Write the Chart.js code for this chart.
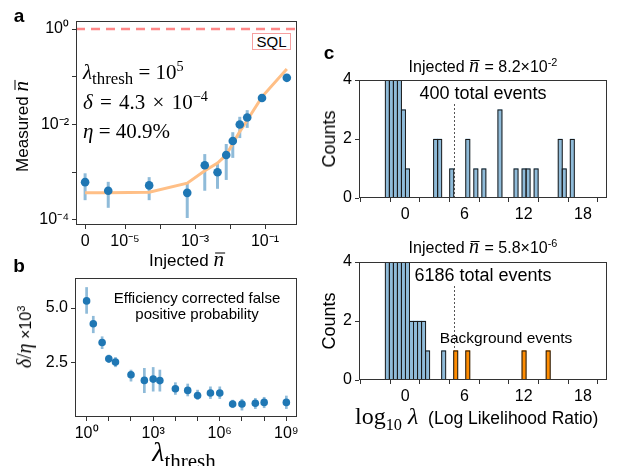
<!DOCTYPE html>
<html lang="en">
<head>
<meta charset="UTF-8">
<title>Measured vs injected photon number</title>
<script src="https://cdn.jsdelivr.net/npm/chart.js@4.4.1/dist/chart.umd.min.js"></script>
<style>
  body { margin: 0; background: #fff; }
  #fig { position: relative; width: 620px; height: 466px; overflow: hidden;
         font-family: "Liberation Sans", Arial, sans-serif; color: #000; }
  canvas { position: absolute; }
  .t { position: absolute; white-space: nowrap; line-height: 1; }
  .c { transform: translate(-50%, -50%); }
  .r { transform: translate(-50%, -50%) rotate(-90deg); }
  .m { font-family: "Liberation Serif", "DejaVu Serif", serif; }
  .nb { font-family: "Liberation Serif", serif; font-style: italic; position: relative; padding-right: 1px; }
  .nb::before { content: ''; position: absolute; left: 12%; right: 0; top: 0.3em; border-top: 1px solid #000; }
  .lbl { font-weight: bold; font-size: 19px; }
  sup, sub { font-size: 68%; line-height: 0; }
  .sql { position: absolute; left: 252px; top: 33px; width: 37px; height: 15px;
         border: 1px solid #f6a0a0; font-size: 15px; text-align: center; line-height: 16px; background: #fff; }
  .wb { background: #fff; padding: 0 2px; }
</style>
</head>
<body>
<div id="fig">
  <canvas id="cA"></canvas>
  <canvas id="cB"></canvas>
  <canvas id="cC1"></canvas>
  <canvas id="cC2"></canvas>

  <!-- panel a -->
  <div class="t lbl c" style="left:19px;top:15px">a</div>
  <div class="sql">SQL</div>
  <div class="t r" style="left:21px;top:126px;font-size:17px">Measured <span class="nb" style="font-size:21px">n</span></div>
  <div class="t c" style="left:187px;top:259px;font-size:17px">Injected <span class="nb" style="font-size:21px">n</span></div>
  <div class="t m" style="left:83px;top:62px;font-size:21px"><i>λ</i><sub style="font-size:80%">thresh</sub> = 10<sup>5</sup></div>
  <div class="t m" style="left:83px;top:92px;font-size:21px;word-spacing:2px"><i>δ</i> = 4.3 × 10<sup>−4</sup></div>
  <div class="t m" style="left:83px;top:121px;font-size:21px"><i>η</i> = 40.9%</div>

  <!-- panel b -->
  <div class="t lbl c" style="left:19px;top:265px">b</div>
  <div class="t c" style="left:197px;top:297px;font-size:15px">Efficiency corrected false</div>
  <div class="t c" style="left:197px;top:313px;font-size:15px">positive probability</div>
  <div class="t r" style="left:24px;top:337px;font-size:16px"><span class="m" style="font-size:20px"><i>δ</i>/<i>η</i></span> ×10<sup>3</sup></div>
  <div class="t c m" style="left:184px;top:452px;font-size:28px"><i>λ</i><sub style="font-size:21px">thresh</sub></div>

  <!-- panel c -->
  <div class="t lbl c" style="left:329px;top:52px">c</div>
  <div class="t c" style="left:483px;top:65px;font-size:16px">Injected <span class="nb" style="font-size:20px">n</span> = 8.2×10<sup>-2</sup></div>
  <div class="t c wb" style="left:483px;top:93px;font-size:18px">400 total events</div>
  <div class="t r" style="left:329px;top:139px;font-size:18px">Counts</div>
  <div class="t c" style="left:483px;top:246px;font-size:16px">Injected <span class="nb" style="font-size:20px">n</span> = 5.8×10<sup>-6</sup></div>
  <div class="t c wb" style="left:483px;top:275px;font-size:18px">6186 total events</div>
  <div class="t c" style="left:506px;top:338px;font-size:15.5px">Background events</div>
  <div class="t r" style="left:329px;top:321px;font-size:18px">Counts</div>
  <div class="t" style="left:355px;top:404px;font-size:17.5px"><span class="m" style="font-size:24px">log<sub>10</sub> <i>λ</i></span>&nbsp; (Log Likelihood Ratio)</div>
</div>

<script>
  // ---- panel a: measured vs injected mean photon number ----
  const injected   = [0, 5.8e-6, 4.9e-5, 6e-4, 1.9e-3, 4.4e-3, 7.8e-3, 1.2e-2, 1.9e-2, 3.1e-2, 8.2e-2, 0.42];
  const measured   = [6.2e-4, 4.1e-4, 5.3e-4, 3.7e-4, 1.4e-3, 1.0e-3, 2.3e-3, 4.5e-3, 1.0e-2, 1.4e-2, 3.6e-2, 9.5e-2];
  const measuredLo = [2.6e-4, 1.8e-4, 2.6e-4, 1.1e-4, 4.1e-4, 4.5e-4, 6.9e-4, 2.0e-3, 5.2e-3, 8.5e-3, 3.2e-2, 8.7e-2];
  const measuredHi = [9.5e-4, 6.3e-4, 7.9e-4, 6.0e-4, 2.4e-3, 1.55e-3, 3.9e-3, 6.9e-3, 1.45e-2, 2.0e-2, 4.0e-2, 1.03e-1];
  const fitLine    = [3.7e-4, 3.7e-4, 3.8e-4, 5.9e-4, 1.07e-3, 1.56e-3, 2.3e-3, 4.0e-3, 7.1e-3, 1.23e-2, 3.8e-2, 0.145];
  const sqlLevel   = 1;
  const aXTicks  = [0, 1e-5, 1e-4, 1e-3, 1e-2, 1e-1];
  const aXLabels = ['0', '10⁻⁵', '', '10⁻³', '', '10⁻¹'];
  const aYTicks  = [1e-4, 1e-3, 1e-2, 1e-1, 1];
  const aYLabels = ['10⁻⁴', '', '10⁻²', '', '10⁰'];

  // ---- panel b: efficiency corrected false positive probability ----
  const lamThreshVals = [1, 2, 5, 10, 20, 100, 400, 1e3, 2e3, 1e4, 3.6e4, 1e5, 3.8e5, 1e6, 3.8e6, 1e7, 4e7, 1e8, 1e9];
  const fpRatio   = [5.33, 4.28, 3.42, 2.67, 2.52, 1.94, 1.68, 1.74, 1.67, 1.30, 1.22, 0.99, 1.10, 1.10, 0.60, 0.60, 0.63, 0.67, 0.67];
  const fpRatioLo = [4.74, 3.85, 3.12, 2.48, 2.29, 1.63, 1.10, 1.17, 1.17, 1.02, 0.95, 0.79, 0.83, 0.83, 0.41, 0.30, 0.37, 0.41, 0.37];
  const fpRatioHi = [5.96, 4.64, 3.70, 2.86, 2.75, 2.17, 2.25, 2.29, 2.17, 1.59, 1.53, 1.25, 1.40, 1.40, 0.79, 0.83, 0.87, 0.92, 0.98];
  const bXTicks  = [1, 10, 100, 1e3, 1e4, 1e5, 1e6, 1e7, 1e8, 1e9];
  const bXLabels = ['10⁰', '', '', '10³', '', '', '10⁶', '', '', '10⁹'];
  const bYTicks  = [2.5, 5];
  const bYLabels = ['2.5', '5.0'];

  // ---- panel c: log likelihood ratio histograms ----
  const BIN_START = -2.0, BIN_WIDTH = 0.407;
  // first bins are clipped at the top of the axis (4)
  const topBins   = [0, 1, 2, 3, 4, 5, 12, 13, 16, 20, 22, 24, 28, 32, 34, 35, 37, 43, 44, 46];
  const topCounts = [4, 4, 4, 4, 3, 1, 2, 2, 1, 2, 1, 1, 3, 1, 1, 1, 1, 2, 1, 2];
  const botBins   = [0, 1, 2, 3, 4, 5, 6, 7, 8, 9, 10, 14];
  const botCounts = [4, 4, 4, 4, 4, 4, 2, 2, 2, 2, 1, 1];
  const bgBins    = [17, 20, 34, 40];
  const bgCounts  = [1, 1, 1, 1];
  const logLamThresh = 4.9;
  const cXTicks  = [-3, 0, 3, 6, 9, 12, 15, 18];
  const cXLabels = ['', '0', '', '6', '', '12', '', '18'];
  const cYTicks  = [0, 2, 4];
  const cYLabels = ['0', '2', '4'];

  // symlog x axis of panel a (linear below 1e-5)
  const LINTHRESH = 1e-5, LINSPAN = 1.14;
  function symlog(v) {
    return v < LINTHRESH ? Math.log10(LINTHRESH) - LINSPAN + LINSPAN * v / LINTHRESH : Math.log10(v);
  }
  const binCenter = b => BIN_START + BIN_WIDTH * (b + 0.5);

  const BLUE = '#1f77b4', BLUE_LIGHT = '#8fbbd9';

  // draws the closed box round the plot area
  const frame = {
    id: 'frame',
    afterDraw(chart) {
      const { ctx, chartArea: a } = chart;
      ctx.save();
      ctx.strokeStyle = '#333';
      ctx.lineWidth = 1;
      ctx.strokeRect(a.left + 0.5, a.top + 0.5, a.right - a.left - 1, a.bottom - a.top - 1);
      ctx.restore();
    }
  };

  // vertical error bars
  const errorBars = {
    id: 'errorBars',
    beforeDatasetsDraw(chart, args, o) {
      const { ctx, scales: { x, y } } = chart;
      ctx.save();
      ctx.strokeStyle = o.color;
      ctx.lineWidth = o.width;
      o.xs.forEach((xv, i) => {
        const px = x.getPixelForValue(xv);
        ctx.beginPath();
        ctx.moveTo(px, y.getPixelForValue(o.lo[i]));
        ctx.lineTo(px, y.getPixelForValue(o.hi[i]));
        ctx.stroke();
      });
      ctx.restore();
    }
  };

  // thin outline round each histogram bar (edges shared like matplotlib)
  const barEdges = {
    id: 'barEdges',
    afterDatasetsDraw(chart) {
      const { ctx, chartArea: a } = chart;
      ctx.save();
      ctx.beginPath();
      ctx.rect(a.left, a.top, a.right - a.left, a.bottom - a.top);
      ctx.clip();
      ctx.strokeStyle = '#1a1a1a';
      ctx.lineWidth = 1;
      chart.data.datasets.forEach((ds, i) => {
        chart.getDatasetMeta(i).data.forEach(bar => {
          const l = bar.x - bar.width / 2;
          ctx.strokeRect(l, bar.y + 0.5, bar.width, bar.base - bar.y);
        });
      });
      ctx.restore();
    }
  };

  // horizontal / vertical reference lines
  const refLines = {
    id: 'refLines',
    beforeDatasetsDraw(chart, args, o) {
      const { ctx, chartArea: a, scales: { x, y } } = chart;
      ctx.save();
      ctx.beginPath();
      ctx.rect(a.left, a.top, a.right - a.left, a.bottom - a.top);
      ctx.clip();
      ctx.strokeStyle = o.color;
      ctx.lineWidth = o.width;
      ctx.setLineDash(o.dash);
      ctx.beginPath();
      if (o.y !== undefined) {
        const py = y.getPixelForValue(o.y);
        ctx.moveTo(a.left, py);
        ctx.lineTo(a.right, py);
      } else {
        const px = Math.round(x.getPixelForValue(o.x)) + 0.5;
        ctx.moveTo(px, a.bottom);
        ctx.lineTo(px, a.bottom - o.frac * (a.bottom - a.top));
      }
      ctx.stroke();
      ctx.restore();
    }
  };

  function axis(type, min, max, ticks, labels) {
    return {
      type, min, max,
      afterBuildTicks: s => { s.ticks = ticks.map(v => ({ value: v })); },
      ticks: {
        callback: (v, i) => labels[i],
        font: { family: 'Liberation Sans', size: 16 },
        color: '#000', padding: 3, maxRotation: 0, autoSkip: false
      },
      grid: { drawOnChartArea: false, tickLength: 4, color: '#333' },
      border: { display: false }
    };
  }

  // box = canvas [x, y, w, h], area = plot area [left, top, right, bottom], page pixels
  function place(id, box, area, cfg) {
    const cv = document.getElementById(id);
    cv.style.left = box[0] + 'px';
    cv.style.top = box[1] + 'px';
    cv.width = box[2];
    cv.height = box[3];
    cfg.options.responsive = false;
    cfg.options.animation = false;
    cfg.options.devicePixelRatio = 1;
    cfg.options.layout = { padding: { left: 0, bottom: 0, top: area[1] - box[1], right: box[0] + box[2] - area[2] } };
    cfg.options.scales.x.afterFit = s => { s.height = box[1] + box[3] - area[3]; };
    cfg.options.scales.y.afterFit = s => { s.width = area[0] - box[0]; };
    cfg.options.plugins.legend = { display: false };
    cfg.options.plugins.tooltip = { enabled: false };
    return new Chart(cv, cfg);
  }

  // panel a
  place('cA', [0, 0, 310, 250], [76, 21, 297, 225], {
    type: 'scatter',
    data: {
      datasets: [
        {
          data: injected.map((v, i) => ({ x: symlog(v), y: measured[i] })),
          backgroundColor: BLUE, borderWidth: 0, pointRadius: 4.3
        },
        {
          type: 'line',
          data: injected.map((v, i) => ({ x: symlog(v), y: fitLine[i] })),
          borderColor: '#ffbf86', borderWidth: 3, pointRadius: 0, tension: 0
        }
      ]
    },
    options: {
      scales: {
        x: axis('linear', -6.4, -0.086, aXTicks.map(symlog), aXLabels),
        y: axis('logarithmic', Math.pow(10, -4.105), Math.pow(10, 0.168), aYTicks, aYLabels)
      },
      plugins: {
        errorBars: { xs: injected.map(symlog), lo: measuredLo, hi: measuredHi, color: BLUE_LIGHT, width: 3 },
        refLines: { y: sqlLevel, color: '#f88', width: 2.5, dash: [9, 6] }
      }
    },
    plugins: [frame, errorBars, refLines]
  });

  // panel b
  place('cB', [0, 265, 310, 175], [75, 278, 297, 417], {
    type: 'scatter',
    data: {
      datasets: [{
        data: lamThreshVals.map((v, i) => ({ x: v, y: fpRatio[i] })),
        backgroundColor: BLUE, borderWidth: 0, pointRadius: 3.8
      }]
    },
    options: {
      scales: {
        x: axis('logarithmic', Math.pow(10, -0.48), Math.pow(10, 9.48), bXTicks, bXLabels),
        y: axis('linear', 0, 6.38, bYTicks, bYLabels)
      },
      plugins: {
        errorBars: { xs: lamThreshVals, lo: fpRatioLo, hi: fpRatioHi, color: BLUE_LIGHT, width: 2.7 }
      }
    },
    plugins: [frame, errorBars]
  });

  // panel c histograms
  function histDataset(bins, counts, color) {
    return {
      data: bins.map((b, i) => ({ x: binCenter(b), y: counts[i] })),
      backgroundColor: color, borderWidth: 0,
      barPercentage: 1, categoryPercentage: 1, grouped: false
    };
  }
  function histChart(id, box, area, datasets) {
    return place(id, box, area, {
      type: 'bar',
      data: { datasets },
      options: {
        scales: {
          x: axis('linear', -3.1, 18.87, cXTicks, cXLabels),
          y: axis('linear', 0, 4, cYTicks, cYLabels)
        },
        plugins: {
          refLines: { x: logLamThresh, frac: 0.8, color: '#555', width: 1, dash: [2, 2] }
        }
      },
      plugins: [frame, refLines, barEdges]
    });
  }
  histChart('cC1', [310, 40, 310, 185], [359, 80, 607, 198], [
    histDataset(topBins, topCounts, BLUE_LIGHT)
  ]);
  histChart('cC2', [310, 240, 310, 165], [359, 262, 607, 380], [
    histDataset(botBins, botCounts, BLUE_LIGHT),
    histDataset(bgBins, bgCounts, '#ff8c00')
  ]);
</script>
</body>
</html>
